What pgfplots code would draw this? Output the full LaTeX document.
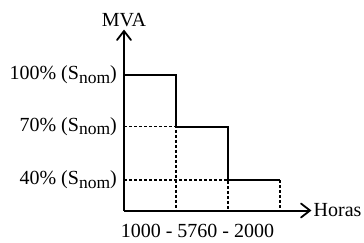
\documentclass[border=0pt]{standalone}
\usepackage{fontspec}
\setmainfont{Liberation Serif}
\usepackage{pgfplots}
\pgfplotsset{compat=1.18}
\usetikzlibrary{arrows.meta}
\newcommand{\Snom}{S\raisebox{-0.35ex}{\fontsize{17.5}{17.5}\selectfont nom}}
\newcommand{\bigf}{\fontsize{20}{23}\selectfont}
\begin{document}
\bigf
\begin{tikzpicture}[x=1pt,y=1pt]
\useasboundingbox (0,0) rectangle (364,242);
\begin{axis}[
  at={(124pt,31.5pt)}, anchor=south west,
  scale only axis, width=186pt, height=179.5pt,
  xmin=0, xmax=3.577, ymin=0, ymax=179.5,
  axis line style={draw=none},
  xtick=\empty,
  ytick={30.5,84,135.5},
  yticklabels={40\% (\Snom), 70\% (\Snom), 100\% (\Snom)},
  major tick length=0pt,
  ticklabel style={font=\bigf},
  yticklabel style={anchor=east, inner sep=0pt, xshift=-7pt},
  clip=false,
]
\draw[line width=2pt] (axis cs:0,0) -- (axis cs:3.577,0);
\draw[line width=2pt] (axis cs:0,0) -- (axis cs:0,179.5);
\draw[line width=1.8pt, line cap=round, line join=miter] (axis cs:3.577,0) ++(-9pt,7pt) -- (axis cs:3.577,0) -- ++(-9pt,-7pt);
\draw[line width=1.8pt, line cap=round, line join=miter] (axis cs:0,179.5) ++(-7pt,-9pt) -- (axis cs:0,179.5) -- ++(7pt,-9pt);
\addplot[line width=2pt, const plot, mark=none] coordinates {(0,135.5) (1,84) (2,30.5) (3,30.5)};
\addplot[line width=1.2pt, dash pattern=on 3pt off 2pt, mark=none] coordinates {(0,84) (1,84) (1,0)};
\addplot[line width=1.2pt, dash pattern=on 3pt off 2pt, mark=none] coordinates {(0,30.5) (2,30.5) (2,0)};
\addplot[line width=1.2pt, dash pattern=on 3pt off 2pt, mark=none] coordinates {(3,30.5) (3,0)};
\node[anchor=south, inner sep=0pt, yshift=4.3pt, font=\bigf] at (axis cs:0,179.5) {MVA};
\node[anchor=base west, inner sep=0pt, xshift=3.5pt, yshift=-5.5pt, font=\bigf] at (axis cs:3.577,0) {Horas};
\node[anchor=base, inner sep=0pt, yshift=-27.2pt, font=\bigf] at (axis cs:1.413,0) {1000 - 5760 - 2000};
\end{axis}
\end{tikzpicture}
\end{document}
